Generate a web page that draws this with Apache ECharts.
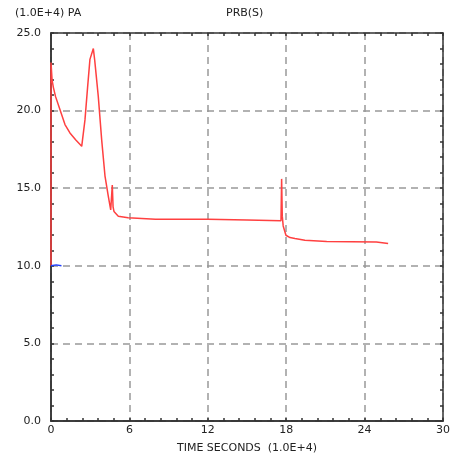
<!DOCTYPE html>
<html><head><meta charset="utf-8">
<script src="https://cdn.jsdelivr.net/npm/echarts@6/dist/echarts.min.js"></script>
<style>html,body{margin:0;padding:0;background:#fff}#c{width:455px;height:459px}</style>
</head><body><div id="c"></div>
<script>
const xTicks = [0, 6, 12, 18, 24, 30];
const yTicks = [0, 5, 10, 15, 20, 25];
const xMinorStep = 1.2;
const yMinorStep = 1;
const prbTime = [0, 0, 0.08, 0.18, 0.35, 0.69, 1.07, 1.45, 1.9, 2.35, 2.6, 2.8, 2.98, 3.24, 3.35, 3.62, 3.88, 4.13, 4.38, 4.57, 4.69, 4.75, 4.82, 5.15, 5.9, 8, 12, 15, 17.6, 17.65, 17.7, 17.77, 17.98, 18.29, 18.67, 19.43, 21.1, 24.9, 25.05, 25.8];
const prbValue = [10, 23.1, 22.0, 21.5, 20.9, 20.05, 19.1, 18.56, 18.1, 17.7, 19.4, 21.5, 23.3, 24.0, 23.2, 20.9, 18.1, 15.8, 14.5, 13.6, 15.2, 13.8, 13.5, 13.2, 13.1, 13.0, 13.0, 12.95, 12.9, 15.6, 13.2, 12.57, 11.97, 11.82, 11.76, 11.65, 11.56, 11.54, 11.44, 11.44];
const blueTime = [0, 0.4, 0.8];
const blueValue = [10, 10.06, 10];

const font = 'DejaVu Sans';
const axisCol = '#333';
const chart = echarts.init(document.getElementById('c'));
const xMax = xTicks[xTicks.length - 1], yMax = yTicks[yTicks.length - 1];
function tickAxis(pos, max, step) {
  return {
    type: 'value', min: 0, max: max, interval: step, position: pos,
    axisLine: {show: true, onZero: false, lineStyle: {color: axisCol, width: 1.5}},
    axisTick: {show: true, inside: true, length: 3, lineStyle: {color: axisCol, width: 1.5}},
    axisLabel: {show: false}, splitLine: {show: false}
  };
}
chart.setOption({
  animation: false,
  grid: {left: 51, right: 12, top: 33, bottom: 37},
  graphic: [
    {type: 'text', left: 15, top: 8, style: {text: '(1.0E+4) PA', font: '11px ' + font, fill: '#222'}},
    {type: 'text', left: 226, top: 8, style: {text: 'PRB(S)', font: '11px ' + font, fill: '#222'}}
  ],
  xAxis: [
    {
      type: 'value', min: 0, max: xMax, interval: xTicks[1] - xTicks[0], position: 'bottom',
      name: 'TIME SECONDS  (1.0E+4)', nameLocation: 'middle', nameGap: 22,
      nameTextStyle: {fontFamily: font, fontSize: 11, color: '#222'},
      axisLine: {show: true, onZero: false, lineStyle: {color: axisCol, width: 1.5}},
      axisTick: {show: false},
      axisLabel: {fontFamily: font, fontSize: 11, color: '#222', margin: 4},
      splitLine: {show: true, lineStyle: {color: '#999', width: 1.5, type: [7, 5]}}
    },
    tickAxis('bottom', xMax, xMinorStep),
    tickAxis('top', xMax, xMinorStep)
  ],
  yAxis: [
    {
      type: 'value', min: 0, max: yMax, interval: yTicks[1] - yTicks[0], position: 'left',
      axisLine: {show: true, onZero: false, lineStyle: {color: axisCol, width: 1.5}},
      axisTick: {show: false},
      axisLabel: {fontFamily: font, fontSize: 11, color: '#222', margin: 10,
        formatter: v => v.toFixed(1)},
      splitLine: {show: true, lineStyle: {color: '#999', width: 1.5, type: [7, 5]}}
    },
    tickAxis('left', yMax, yMinorStep),
    tickAxis('right', yMax, yMinorStep)
  ],
  series: [
    {type: 'line', xAxisIndex: 0, yAxisIndex: 0, symbol: 'none', clip: false,
     lineStyle: {color: '#ff4040', width: 1.5},
     data: prbTime.map((t, i) => [t, prbValue[i]]), z: 5},
    {type: 'line', xAxisIndex: 0, yAxisIndex: 0, symbol: 'none', clip: false,
     lineStyle: {color: '#2040ff', width: 1.5},
     data: blueTime.map((t, i) => [t, blueValue[i]]), z: 6}
  ]
});
</script></body></html>
